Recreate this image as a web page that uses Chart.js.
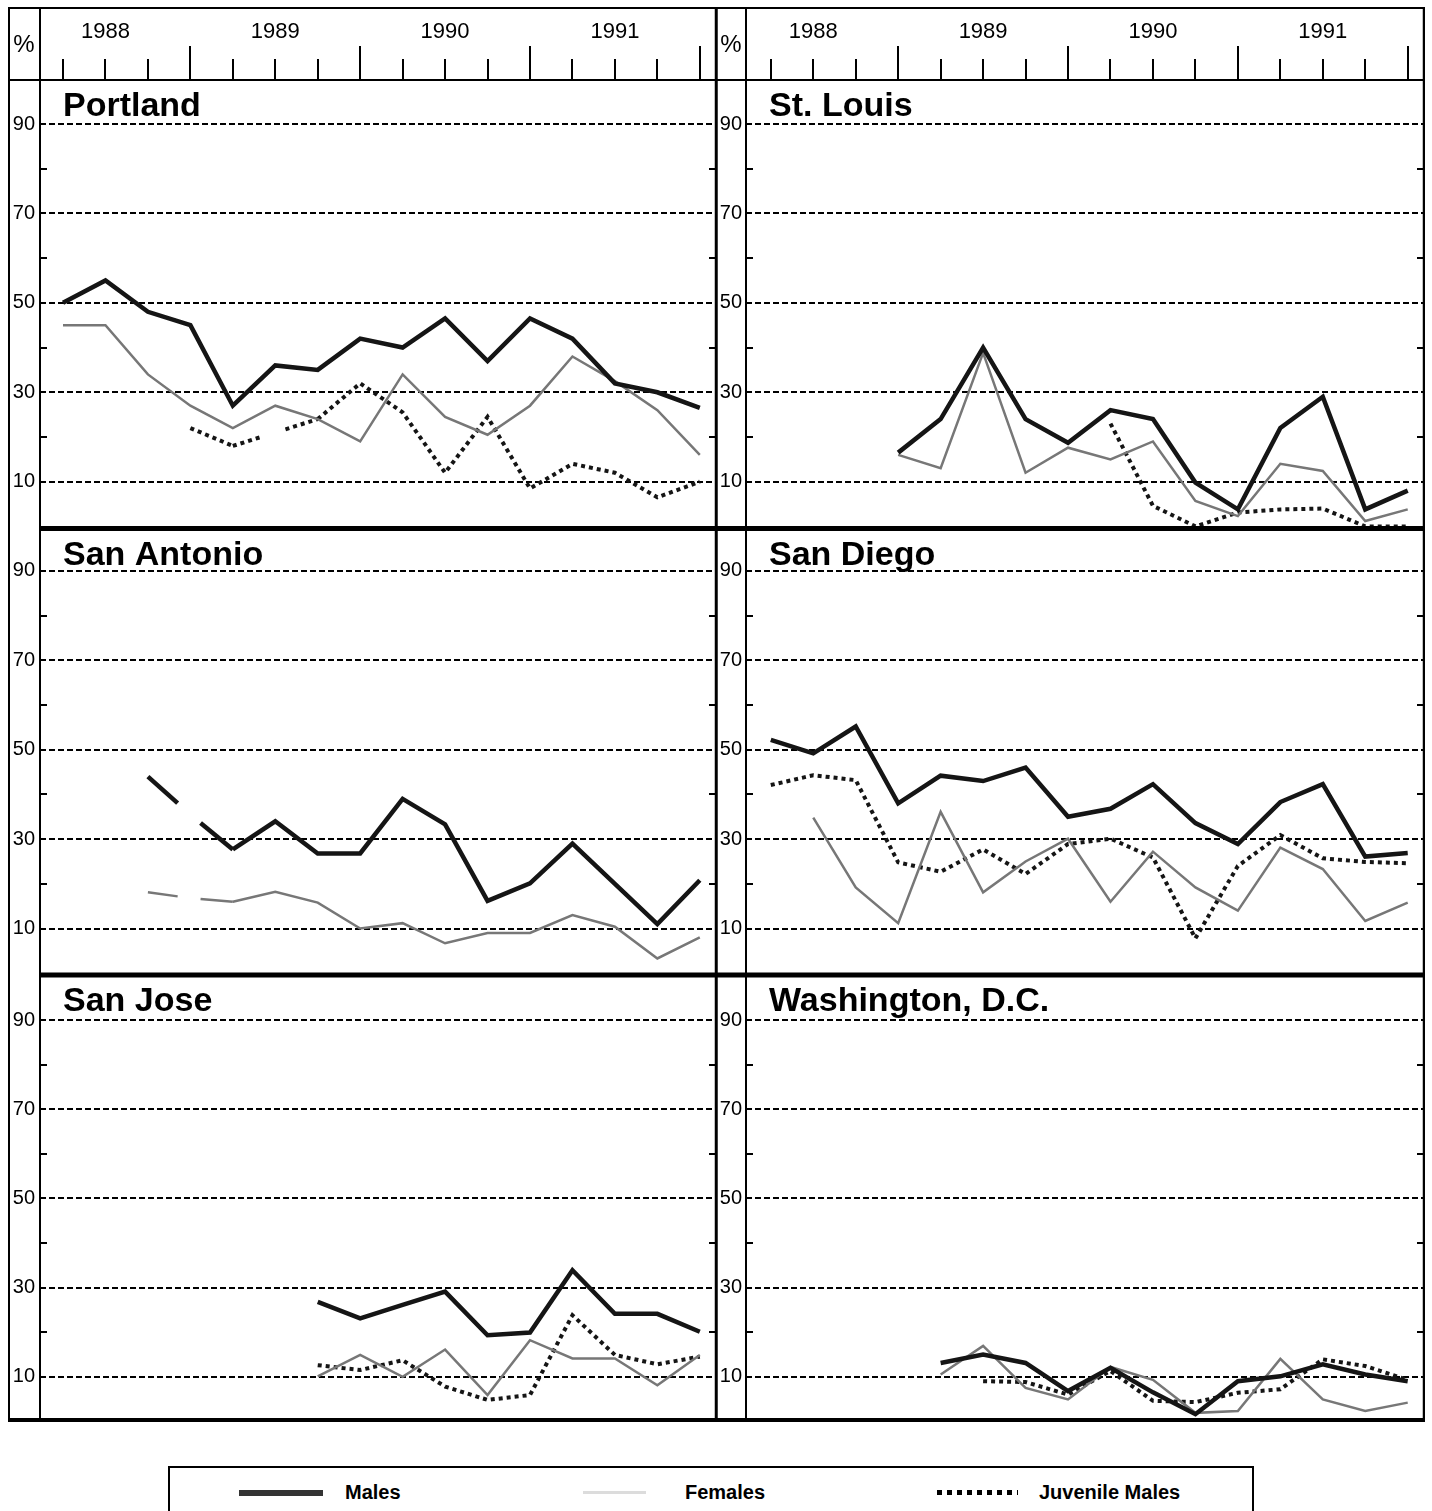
<!DOCTYPE html>
<html>
<head>
<meta charset="utf-8">
<script src="https://cdn.jsdelivr.net/npm/chart.js@4.4.1/dist/chart.umd.min.js"></script>
<style>
  html, body { margin: 0; padding: 0; background: #fff; overflow: hidden; width: 1432px; height: 1511px; }
  canvas { position: absolute; display: block; }
  #cl { left: 8px; top: 7px; }
  #cr { left: 716px; top: 7px; }
  #legend { position: absolute; left: 168px; top: 1466px; width: 1086px; height: 70px; border: 2px solid #000; box-sizing: border-box; font-family: 'Liberation Sans', Arial, Helvetica, sans-serif; }
  .sw { position: absolute; top: 22px; height: 5px; }
  .lt { position: absolute; top: 12px; font-weight: bold; font-size: 20px; line-height: 24px; color: #000; }
</style>
</head>
<body>
<canvas id="cl" width="709" height="1415" style="width:709px;height:1415px"></canvas>
<canvas id="cr" width="709" height="1415" style="width:709px;height:1415px"></canvas>
<div id="legend"></div>
<script>
// ---------- data ----------
const quarters = ['1988 Q1','1988 Q2','1988 Q3','1988 Q4','1989 Q1','1989 Q2','1989 Q3','1989 Q4',
                  '1990 Q1','1990 Q2','1990 Q3','1990 Q4','1991 Q1','1991 Q2','1991 Q3','1991 Q4'];
const years = ['1988', '1989', '1990', '1991'];
const gridValues = [10, 30, 50, 70, 90];
const minorValues = [20, 40, 60, 80];
const seriesNames = ['Males', 'Females', 'Juvenile Males'];

const portlandMales     = [50, 55, 48, 45, 27, 36, 35, 42, 40, 46.5, 37, 46.5, 42, 32, 30, 26.5];
const portlandFemales   = [45, 45, 34, 27, 22, 27, 24, 19, 34, 24.5, 20.5, 27, 38, 32.5, 26, 16];
const portlandJuvenile  = [null, null, null, 22, 18, 21, 24, 32, 25.5, 12, 24.5, 8.5, 14, 12, 6.5, 10];

const stLouisMales      = [null, null, null, 16.5, 24, 40, 24, 18.7, 26, 24, 9.8, 3.8, 22, 29, 3.8, 8];
const stLouisFemales    = [null, null, null, 16, 13, 38.8, 12, 17.6, 15, 19, 5.7, 2.3, 14, 12.4, 1.2, 3.8];
const stLouisJuvenile   = [null, null, null, null, null, null, null, null, 23, 4.6, 0, 3.1, 3.8, 4, 0, 0];

const sanAntonioMales   = [null, null, 44, 35.5, 27.7, 34, 26.8, 26.8, 39, 33.3, 16.2, 20.1, 29, 20, 11, 20.8];
const sanAntonioFemales = [null, null, 18.1, 16.8, 16, 18.2, 15.8, 10, 11.2, 6.7, 9, 9, 13, 10.4, 3.3, 8];

const sanDiegoMales     = [52.2, 49.2, 55.2, 38, 44.2, 43, 46, 35, 36.8, 42.3, 33.6, 28.9, 38.3, 42.3, 26.1, 26.9];
const sanDiegoFemales   = [null, 34.8, 19.2, 11.2, 36.1, 18.1, 25, 30.1, 16, 27.2, 19.2, 14, 28.1, 23.3, 11.7, 15.8];
const sanDiegoJuvenile  = [42.1, 44.3, 43.2, 24.8, 22.7, 27.7, 22.2, 28.9, 30.1, 25.9, 7.8, 24, 30.9, 25.7, 24.9, 24.6];

const sanJoseMales      = [null, null, null, null, null, null, 26.8, 23.1, 26.1, 29.1, 19.3, 19.9, 33.9, 24.1, 24.1, 20.1];
const sanJoseFemales    = [null, null, null, null, null, null, 10.1, 14.9, 10, 16.1, 5.9, 18.2, 14.1, 14.1, 8.1, 14.9];
const sanJoseJuvenile   = [null, null, null, null, null, null, 12.6, 11.5, 13.7, 7.8, 4.8, 5.9, 23.8, 14.9, 12.8, 14.5];

const washingtonMales    = [null, null, null, null, 13.1, 15, 13.1, 6.8, 12, 6.5, 1.6, 9, 10.1, 12.8, 10.5, 9];
const washingtonFemales  = [null, null, null, null, 10.5, 16.9, 7.5, 4.9, 12.2, 9.3, 1.9, 2.3, 14, 4.9, 2.3, 4.2];
const washingtonJuvenile = [null, null, null, null, null, 9, 8.8, 6, 11.3, 4.6, 4.3, 6.4, 7.2, 13.9, 12.4, 9.3];

const leftCities  = ['Portland', 'San Antonio', 'San Jose'];
const rightCities = ['St. Louis', 'San Diego', 'Washington, D.C.'];
const citySeries = {
  'Portland':         [portlandMales, portlandFemales, portlandJuvenile],
  'St. Louis':        [stLouisMales, stLouisFemales, stLouisJuvenile],
  'San Antonio':      [sanAntonioMales, sanAntonioFemales, null],
  'San Diego':        [sanDiegoMales, sanDiegoFemales, sanDiegoJuvenile],
  'San Jose':         [sanJoseMales, sanJoseFemales, sanJoseJuvenile],
  'Washington, D.C.': [washingtonMales, washingtonFemales, washingtonJuvenile]
};
// series that show a printed break in the line around a quarter (city, series index, quarter index)
const lineBreaks = [['Portland', 2, 5], ['San Antonio', 0, 3], ['San Antonio', 1, 3]];

// ---------- styles ----------
const FONT = "'Liberation Sans', Arial, Helvetica, sans-serif";
const seriesStyle = [
  { borderColor: '#151515', borderWidth: 4.5, borderDash: [] },
  { borderColor: '#777777', borderWidth: 2.5, borderDash: [] },
  { borderColor: '#151515', borderWidth: 4,   borderDash: [4, 4] }
];
const rowLayout = [
  { min: -0.47, max: 99.85, weight: 448.5 },
  { min: -0.4,  max: 99.5,  weight: 446.5 },
  { min: -0.15, max: 100.1, weight: 447 }
];

function dashUpTo(pat, d, len) {
  if (!pat.length) return [d, len * 2 + 20];
  const a = []; let s = 0;
  while (s + pat[0] <= d) { a.push(pat[0], pat[1]); s += pat[0] + pat[1]; }
  if (!a.length) return [0, len * 2 + 20];
  a[a.length - 1] = len * 2 + 20;
  return a;
}
function dashFrom(pat, g, len) {
  if (!pat.length) return [0, g, len * 2 + 20, 0];
  const a = [0, g]; let s = g;
  while (s < len + 20) { a.push(pat[0], pat[1]); s += pat[0] + pat[1]; }
  return a;
}
function breakSegment(at, pat) {
  return {
    borderDash: ctx => {
      const len = Math.hypot(ctx.p1.x - ctx.p0.x, ctx.p1.y - ctx.p0.y);
      if (ctx.p1DataIndex === at) return dashUpTo(pat, 0.7 * len, len);
      if (ctx.p0DataIndex === at) return dashFrom(pat, 0.24 * len, len);
      return undefined;
    }
  };
}
function noPadding(s) {
  s.paddingLeft = 0; s.paddingRight = 0; s.paddingTop = 0; s.paddingBottom = 0;
}

const framePlugin = {
  id: 'frame',
  afterDatasetsDraw(chart, args, opts) {
    const { ctx, chartArea: a, scales } = chart;
    const W = chart.width, H = chart.height;
    const line = (x1, y1, x2, y2, w) => {
      ctx.lineWidth = w; ctx.beginPath(); ctx.moveTo(x1, y1); ctx.lineTo(x2, y2); ctx.stroke();
    };
    ctx.save();
    ctx.strokeStyle = '#000';
    ctx.fillStyle = '#000';
    ctx.setLineDash([]);
    // outer & cell frame
    line(0, 1, W, 1, 2);
    line(0, a.top, W, a.top, 2);
    line(a.left, 0, a.left, H, 2);
    line(W - 1, 0, W - 1, H, 2.5);
    if (opts.leftOuter) line(1, 0, 1, H, 2);
    else line(0.5, 0, 0.5, H, 2.5);
    // minor y ticks and row separators
    opts.axes.forEach((id, r) => {
      const s = scales[id];
      minorValues.forEach(v => {
        const py = Math.round(s.getPixelForValue(v));
        line(a.left, py, a.left + 7, py, 2);
        line(a.right - 8, py, a.right, py, 2);
      });
      if (r < opts.axes.length - 1) line(opts.sepFrom === 'canvas' ? 0 : a.left, s.bottom, W, s.bottom, 5);
      // panel title
      ctx.font = 'bold 34px ' + FONT;
      ctx.textBaseline = 'alphabetic';
      ctx.textAlign = 'left';
      ctx.fillText(opts.titles[r], a.left + 23, s.top + 36);
    });
    line(0, H - 2, W, H - 2, 4);
    // header quarter ticks
    const xs = scales.x;
    quarters.forEach((q, i) => {
      const px = Math.round(xs.getPixelForValue(i));
      const top = (i % 4 === 3) ? 39 : 52;
      line(px, top, px, a.top, 2);
    });
    // unit cell
    ctx.font = '24px ' + FONT;
    ctx.textAlign = 'center';
    ctx.textBaseline = 'middle';
    ctx.fillText('%', a.left / 2, 38);
    ctx.restore();
  }
};

function makeColumn(canvasId, cities, xMin, xMax, labelWidth, labelPad, frameOpts) {
  const datasets = [];
  const scales = {
    x: {
      type: 'linear', position: 'top', min: xMin, max: xMax,
      afterBuildTicks: s => { s.ticks = quarters.map((q, i) => ({ value: i })); },
      afterFit: s => { s.height = 73; noPadding(s); },
      grid: { display: false }, border: { display: false },
      ticks: {
        autoSkip: false, maxRotation: 0, minRotation: 0, padding: 27, color: '#000',
        font: { family: FONT, size: 22 },
        callback: (v, i) => (i % 4 === 1 ? years[Math.floor(i / 4)] : '')
      }
    }
  };
  cities.forEach((city, r) => {
    const axisId = 'y' + r;
    scales[axisId] = {
      type: 'linear', position: 'left', stack: 'col', stackWeight: rowLayout[r].weight, weight: 10 - r,
      min: rowLayout[r].min, max: rowLayout[r].max,
      afterBuildTicks: s => { s.ticks = gridValues.concat(minorValues).sort((p, q) => p - q).map(v => ({ value: v })); },
      afterFit: s => { s.width = labelWidth; noPadding(s); },
      grid: {
        drawTicks: false, lineWidth: 2,
        color: c => (c.tick && gridValues.includes(c.tick.value)) ? '#000' : 'rgba(0,0,0,0)'
      },
      border: { display: false, dash: [6, 3] },
      ticks: {
        autoSkip: false, padding: labelPad, color: '#000',
        font: { family: FONT, size: 20 },
        callback: v => (gridValues.includes(v) ? String(v) : '')
      }
    };
    citySeries[city].forEach((vals, si) => {
      if (!vals) return;
      const st = seriesStyle[si];
      const ds = {
        label: seriesNames[si],
        data: vals.map((v, i) => ({ x: i, y: v })),
        yAxisID: axisId, xAxisID: 'x',
        borderColor: st.borderColor, borderWidth: st.borderWidth, borderDash: st.borderDash,
        borderCapStyle: 'butt', borderJoinStyle: 'miter',
        pointRadius: 0, tension: 0, fill: false, spanGaps: false
      };
      const br = lineBreaks.find(b => b[0] === city && b[1] === si);
      if (br) ds.segment = breakSegment(br[2], st.borderDash);
      datasets.push(ds);
    });
  });
  frameOpts.axes = cities.map((c, r) => 'y' + r);
  frameOpts.titles = cities;
  return new Chart(document.getElementById(canvasId), {
    type: 'line',
    data: { datasets },
    options: {
      responsive: false, animation: false, devicePixelRatio: 1,
      layout: { padding: 0, autoPadding: false },
      plugins: { legend: { display: false }, tooltip: { enabled: false }, frame: frameOpts },
      scales
    },
    plugins: [framePlugin]
  });
}

makeColumn('cl', leftCities, -0.542, 15.405, 32, 5, { leftOuter: true, sepFrom: 'area' });
makeColumn('cr', rightCities, -0.584, 15.407, 30, 4, { leftOuter: false, sepFrom: 'canvas' });

// ---------- legend ----------
const legendPos = [[69, 84, 175], [413, 63, 515], [767, 81, 869]];
const legendSwatch = [
  'background:#333;height:6px;',
  'background:#dcdcdc;height:3px;top:23px;',
  'background:repeating-linear-gradient(90deg,#000 0 5px,transparent 5px 10px);'
];
const legendEl = document.getElementById('legend');
seriesNames.forEach((name, i) => {
  const sw = document.createElement('div');
  sw.className = 'sw';
  sw.style.cssText = 'left:' + legendPos[i][0] + 'px;width:' + legendPos[i][1] + 'px;' + legendSwatch[i];
  legendEl.appendChild(sw);
  const t = document.createElement('div');
  t.className = 'lt';
  t.style.left = legendPos[i][2] + 'px';
  t.textContent = name;
  legendEl.appendChild(t);
});
</script>
</body>
</html>
